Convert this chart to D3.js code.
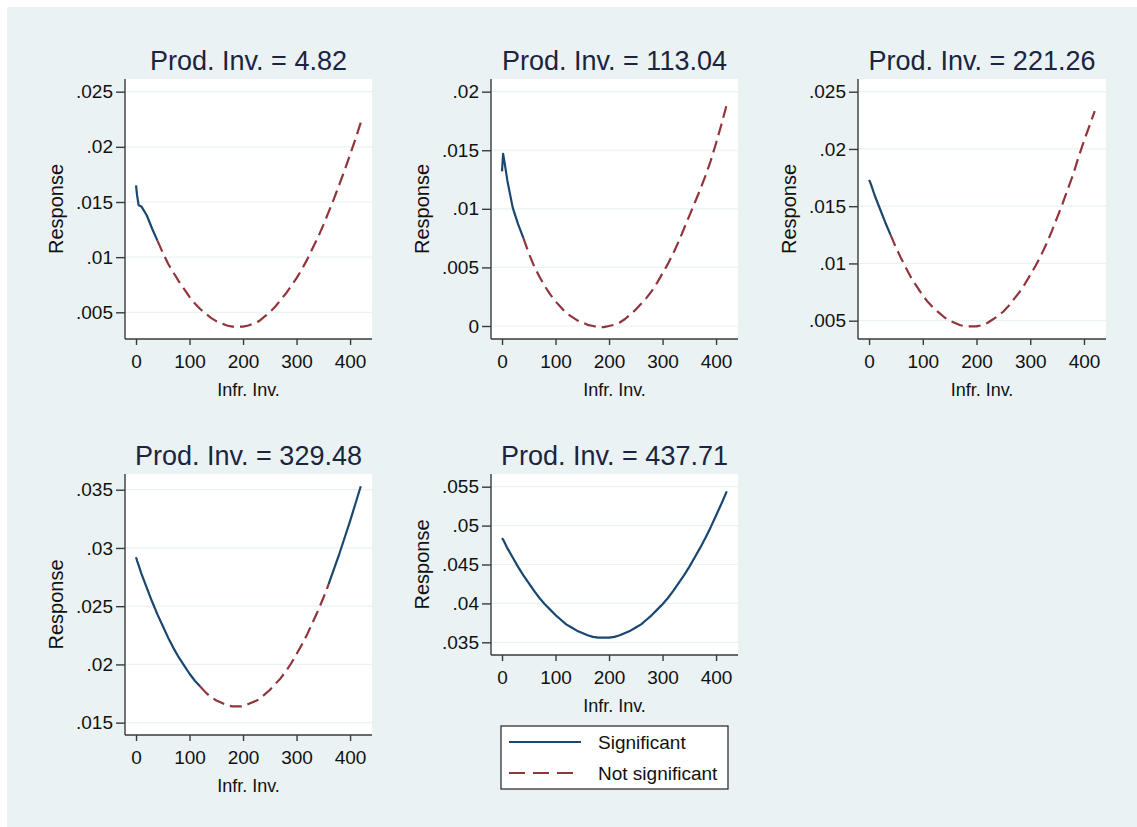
<!DOCTYPE html>
<html>
<head>
<meta charset="utf-8">
<script src="https://cdn.jsdelivr.net/npm/d3@7/dist/d3.min.js"></script>
<style>
  html, body { margin: 0; padding: 0; background: #ffffff; }
  svg { display: block; font-family: "Liberation Sans", Arial, sans-serif; }
</style>
</head>
<body>
<svg id="chart" width="1137" height="827"></svg>
<script>
// Infrastructure investment grid shared by every panel
const infr = [0, 2, 5, 10, 20, 30, 40, 50, 60, 70, 80, 90, 100, 110, 120, 130, 140, 150, 160, 170,
  180, 190, 200, 210, 220, 230, 240, 250, 260, 270, 280, 290, 300, 310, 320, 330, 340, 350, 360, 370,
  380, 390, 400, 410, 420];

// Panel titles (production investment level)
const prodLabels = ["Prod. Inv. = 4.82", "Prod. Inv. = 113.04", "Prod. Inv. = 221.26",
  "Prod. Inv. = 329.48", "Prod. Inv. = 437.71"];

// Response along the infrastructure grid, one array per panel
const resp1 = [.0165, .0156, .0147, .0146, .0138, .0126, .0115, .0104, .0094, .0086, .0078, .0071, .0064, .0058, .0053, .0049, .0045, .0042, .0040, .0038,
  .0037, .0037, .0037, .0038, .0040, .0042, .0046, .0050, .0055, .0061, .0067, .0074, .0081, .0089, .0098, .0108, .0118, .0129, .0141, .0153,
  .0166, .0179, .0193, .0207, .0222];
const resp2 = [.0132, .0147, .0139, .0124, .0101, .0087, .0075, .0062, .0051, .0042, .0034, .0027, .0021, .0016, .0011, .0008, .0005, .0003, .0001, .0000,
  -.0001, -.0001, .0000, .0001, .0003, .0006, .0010, .0014, .0019, .0024, .0030, .0037, .0045, .0053, .0062, .0072, .0083, .0094, .0105, .0116,
  .0128, .0141, .0156, .0172, .0189];
const resp3 = [.0173, .0171, .0167, .0160, .0148, .0136, .0125, .0114, .0104, .0095, .0086, .0079, .0072, .0066, .0061, .0057, .0053, .0050, .0048, .0046,
  .0045, .0045, .0045, .0046, .0048, .0051, .0054, .0058, .0063, .0069, .0075, .0082, .0090, .0098, .0107, .0117, .0128, .0140, .0152, .0165,
  .0178, .0193, .0207, .0220, .0233];
const resp4 = [.0292, .0289, .0285, .0278, .0266, .0254, .0243, .0233, .0223, .0214, .0206, .0199, .0192, .0186, .0181, .0176, .0172, .0169, .0167, .0165,
  .0164, .0164, .0164, .0166, .0168, .0170, .0174, .0178, .0183, .0188, .0194, .0201, .0209, .0217, .0226, .0236, .0246, .0257, .0269, .0282,
  .0295, .0309, .0323, .0338, .0353];
const resp5 = [.0484, .0482, .0478, .0471, .0459, .0447, .0436, .0426, .0416, .0407, .0399, .0392, .0385, .0379, .0373, .0369, .0365, .0362, .0359, .0357,
  .0356, .0356, .0356, .0357, .0359, .0362, .0365, .0369, .0373, .0379, .0385, .0392, .0399, .0407, .0416, .0426, .0436, .0447, .0459, .0471,
  .0484, .0498, .0513, .0528, .0544];

// Infrastructure ranges where the response is significant
const sig1 = [[0, 40]];
const sig2 = [[0, 40]];
const sig3 = [[0, 40]];
const sig4 = [[0, 120], [360, 420]];
const sig5 = [[0, 420]];

// Axis ticks
const xTicks = [0, 100, 200, 300, 400];
const yTicks1 = [.005, .01, .015, .02, .025];
const yTicks2 = [0, .005, .01, .015, .02];
const yTicks3 = [.005, .01, .015, .02, .025];
const yTicks4 = [.015, .02, .025, .03, .035];
const yTicks5 = [.035, .04, .045, .05, .055];

const legendLabels = ["Significant", "Not significant"];

// Colours
const NAVY = "#1a476f", MAROON = "#90353b", BG = "#eaf2f3", INK = "#111111";

// Panel frames (plot regions) and axis extents
const panels = [
  { title: prodLabels[0], y: resp1, sig: sig1, ticks: yTicks1, box: [125, 79, 372, 339], yDom: [0.00258, 0.02615] },
  { title: prodLabels[1], y: resp2, sig: sig2, ticks: yTicks2, box: [491, 79, 738, 339], yDom: [-0.00111, 0.02108] },
  { title: prodLabels[2], y: resp3, sig: sig3, ticks: yTicks3, box: [858, 79, 1106, 339], yDom: [0.0034, 0.02611] },
  { title: prodLabels[3], y: resp4, sig: sig4, ticks: yTicks4, box: [125, 474, 372, 735], yDom: [0.01394, 0.03635] },
  { title: prodLabels[4], y: resp5, sig: sig5, ticks: yTicks5, box: [491, 474, 738, 655], yDom: [0.03337, 0.05663] }
];
const xDom = [-20.6, 441];

const svg = d3.select("#chart");

// Graph region background
svg.append("rect").attr("x", 7).attr("y", 7).attr("width", 1130).attr("height", 820).attr("fill", BG);

// Stata-style number labels: drop the leading zero
const fmt = v => v === 0 ? "0" : d3.format(".3~f")(v).replace(/^0\./, ".").replace(/^-0\./, "-.");

panels.forEach(p => {
  const [L, T, R, B] = p.box;
  const x = d3.scaleLinear().domain(xDom).range([L, R]);
  const y = d3.scaleLinear().domain(p.yDom).range([B, T]);
  const g = svg.append("g");

  // Plot region
  g.append("rect").attr("x", L).attr("y", T).attr("width", R - L).attr("height", B - T).attr("fill", "#ffffff");

  // Horizontal grid lines
  g.selectAll("line.grid").data(p.ticks).join("line")
    .attr("x1", L).attr("x2", R)
    .attr("y1", d => y(d)).attr("y2", d => y(d))
    .attr("stroke", BG).attr("stroke-width", 1.2);

  // Response curve, split into significant / not significant runs
  const pts = infr.map((v, i) => [v, p.y[i]]);
  const isSig = (a, b) => { const m = (a + b) / 2; return p.sig.some(r => m >= r[0] && m <= r[1]); };
  const runs = [];
  for (let i = 0; i < pts.length - 1; i++) {
    const s = isSig(pts[i][0], pts[i + 1][0]);
    const last = runs[runs.length - 1];
    if (last && last.sig === s) last.pts.push(pts[i + 1]);
    else runs.push({ sig: s, pts: [pts[i], pts[i + 1]] });
  }
  const line = d3.line().x(d => x(d[0])).y(d => y(d[1]));
  g.selectAll("path.curve").data(runs).join("path")
    .attr("d", d => line(d.pts))
    .attr("fill", "none")
    .attr("stroke", d => d.sig ? NAVY : MAROON)
    .attr("stroke-width", 2.2)
    .attr("stroke-dasharray", d => d.sig ? null : "12,6")
    .attr("stroke-linejoin", "round");

  // Axes
  const yAxis = d3.axisLeft(y).tickValues(p.ticks).tickSize(9).tickPadding(3).tickFormat(fmt);
  const xAxis = d3.axisBottom(x).tickValues(xTicks).tickSize(6).tickPadding(10).tickFormat(d3.format("d"));
  const ya = g.append("g").attr("transform", `translate(${L},0)`).call(yAxis);
  const xa = g.append("g").attr("transform", `translate(0,${B})`).call(xAxis);
  [ya, xa].forEach(a => {
    a.select(".domain").attr("stroke", "#3a3a3a").attr("stroke-width", 1.4);
    a.selectAll(".tick line").attr("stroke", "#3a3a3a").attr("stroke-width", 1.4);
    a.selectAll(".tick text").attr("fill", INK).style("font-size", "19px").style("font-family", "'Liberation Sans', Arial, sans-serif");
  });
  ya.select(".domain").attr("d", `M0,${T}V${B}`);
  xa.select(".domain").attr("d", `M${L},0H${R}`);

  // Titles
  g.append("text").attr("x", (L + R) / 2).attr("y", T - 9)
    .attr("text-anchor", "middle").attr("fill", "#1c2440")
    .style("font-size", "27px").text(p.title);
  g.append("text").attr("transform", `translate(${L - 62},${(T + B) / 2}) rotate(-90)`)
    .attr("text-anchor", "middle").attr("fill", INK)
    .style("font-size", "20px").text("Response");
  g.append("text").attr("x", (L + R) / 2).attr("y", B + 56.5)
    .attr("text-anchor", "middle").attr("fill", INK)
    .style("font-size", "18px").text("Infr. Inv.");
});

// Legend
const lg = svg.append("g");
lg.append("rect").attr("x", 501).attr("y", 726).attr("width", 227).attr("height", 63)
  .attr("fill", "#ffffff").attr("stroke", "#222").attr("stroke-width", 1.2);
const legendItems = [
  { label: legendLabels[0], color: NAVY, dash: null, yy: 742 },
  { label: legendLabels[1], color: MAROON, dash: "16,8", yy: 773 }
];
legendItems.forEach(it => {
  lg.append("line").attr("x1", 509).attr("x2", 581).attr("y1", it.yy).attr("y2", it.yy)
    .attr("stroke", it.color).attr("stroke-width", 2).attr("stroke-dasharray", it.dash);
  lg.append("text").attr("x", 598).attr("y", it.yy).attr("dy", "0.35em")
    .attr("fill", INK).style("font-size", "19px").text(it.label);
});
</script>
</body>
</html>
